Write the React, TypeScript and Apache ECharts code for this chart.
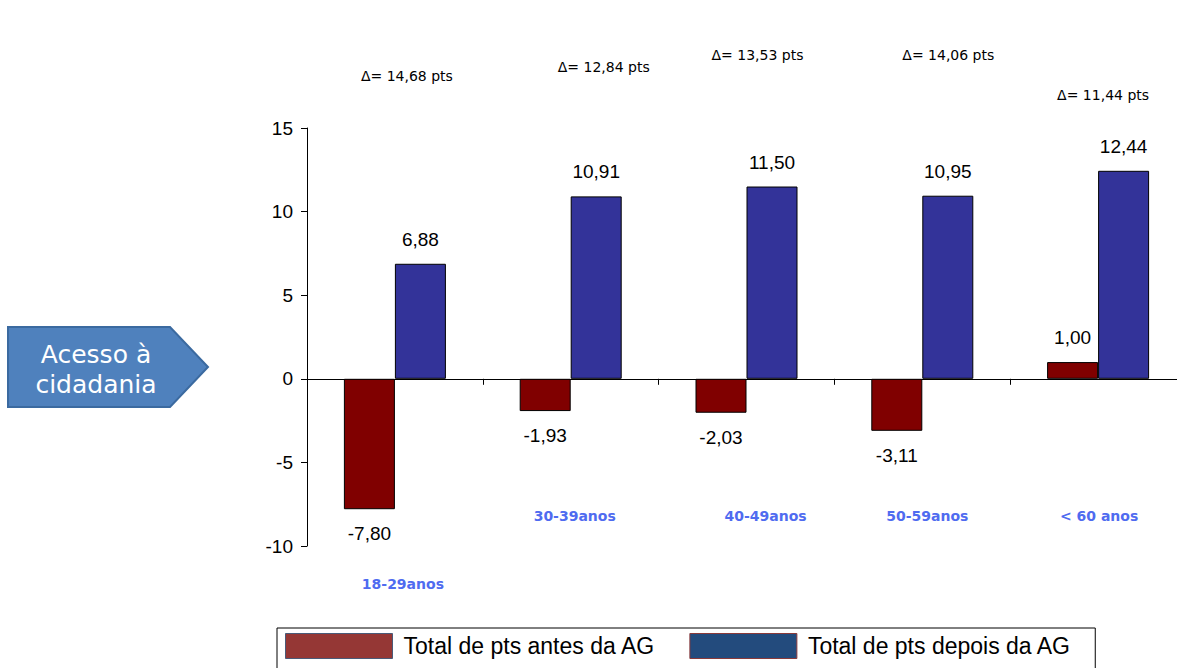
import React, { useEffect, useRef } from "react";
import * as echarts from "echarts";

const categories = ["18-29anos", "30-39anos", "40-49anos", "50-59anos", "< 60 anos"];
const seriesNames = ["Total de pts antes da AG", "Total de pts depois da AG"];
const beforeValues = [-7.8, -1.93, -2.03, -3.11, 1.0];
const afterValues = [6.88, 10.91, 11.5, 10.95, 12.44];
const yMin = -10;
const yMax = 15;
const yInterval = 5;
const sideTitle = "Acesso à\ncidadania";

const fmt = (v: number) => v.toFixed(2).replace(".", ",");

export default function App() {
  const ref = useRef<HTMLDivElement>(null);

  useEffect(() => {
    if (!ref.current) return;
    const chart = echarts.init(ref.current, undefined, { renderer: "svg" });

    const mkData = (vals: number[]) =>
      vals.map((v) => ({
        value: v,
        label: { position: v < 0 ? "bottom" : "top" },
      }));

    const option: any = {
      animation: false,
      backgroundColor: "#ffffff",
      textStyle: { fontFamily: "Liberation Sans, Arial, sans-serif" },
      grid: { left: 307, top: 128, height: 418, width: 879 },
      legend: {
        left: 277,
        top: 628,
        orient: "horizontal",
        itemWidth: 107,
        itemHeight: 25,
        itemGap: 34,
        borderColor: "#000",
        borderWidth: 1,
        padding: [5, 24, 20, 8],
        textStyle: {
          fontSize: 23,
          color: "#000",
          padding: [0, 0, 0, 6],
          fontFamily: "Liberation Sans, Arial, sans-serif",
        },
        data: [
          { name: seriesNames[0], icon: "rect", itemStyle: { color: "#953735", borderColor: "#4a5a78", borderWidth: 1 } },
          { name: seriesNames[1], icon: "rect", itemStyle: { color: "#234b7d", borderColor: "#8a3a3a", borderWidth: 1 } },
        ],
      },
      xAxis: {
        type: "category",
        data: categories,
        axisLine: { onZero: true, lineStyle: { color: "#000", width: 1 } },
        axisTick: { show: true, length: 6, lineStyle: { color: "#000" } },
        axisLabel: { show: false },
      },
      yAxis: {
        type: "value",
        min: yMin,
        max: yMax,
        interval: yInterval,
        splitLine: { show: false },
        axisLine: { show: true, lineStyle: { color: "#000", width: 1 } },
        axisTick: { show: true, length: 6, lineStyle: { color: "#000" } },
        axisLabel: { color: "#000", fontSize: 19, margin: 14 },
      },
      series: [
        {
          name: seriesNames[0],
          type: "bar",
          data: mkData(beforeValues),
          barWidth: 51,
          barGap: "0%",
          itemStyle: { color: "#800000", borderColor: "#000", borderWidth: 1 },
          label: { show: true, color: "#000", fontSize: 19, distance: 15, formatter: (p: any) => fmt(p.value) },
        },
        {
          name: seriesNames[1],
          type: "bar",
          data: mkData(afterValues),
          barWidth: 51,
          barGap: "0%",
          itemStyle: { color: "#333399", borderColor: "#000", borderWidth: 1 },
          label: { show: true, color: "#000", fontSize: 19, distance: 15, formatter: (p: any) => fmt(p.value) },
        },
      ],
    };
    chart.setOption(option);

    // annotation layout (pixel offsets relative to category centres)
    const deltaLayout = [
      { dx: 12, y: 76 },
      { dx: 33, y: 67 },
      { dx: 11, y: 55 },
      { dx: 26, y: 55 },
      { dx: 5, y: 95 },
    ];
    const catDx = [8, 4, 19, 5, 1];

    const graphics: any[] = [
      {
        type: "polygon",
        shape: { points: [[8, 327], [170, 327], [208, 367], [170, 407], [8, 407]] },
        style: { fill: "#4f81bd", stroke: "#3b6aa0", lineWidth: 2 },
      },
      {
        type: "text",
        x: 96,
        y: 369,
        style: {
          text: sideTitle,
          fill: "#ffffff",
          font: "25px 'DejaVu Sans', sans-serif",
          lineHeight: 30,
          align: "center",
          verticalAlign: "middle",
        },
      },
    ];

    categories.forEach((c, i) => {
      const center = chart.convertToPixel({ gridIndex: 0 }, [i, 0]) as number[];
      const delta = afterValues[i] - beforeValues[i];
      graphics.push({
        type: "text",
        x: center[0] + deltaLayout[i].dx,
        y: deltaLayout[i].y,
        style: {
          text: "Δ= " + fmt(delta) + " pts",
          fill: "#000",
          font: "14px 'DejaVu Sans', sans-serif",
          align: "center",
          verticalAlign: "middle",
        },
      });
      const labelVal = Math.min(-8.2, Math.min(beforeValues[i], 0) - 4.5);
      const lp = chart.convertToPixel({ gridIndex: 0 }, [i, labelVal]) as number[];
      graphics.push({
        type: "text",
        x: center[0] + catDx[i],
        y: lp[1],
        style: {
          text: c,
          fill: "#4f6bf0",
          font: "bold 14px 'DejaVu Sans', sans-serif",
          align: "center",
          verticalAlign: "middle",
        },
      });
    });

    chart.setOption({ graphic: graphics });

    return () => chart.dispose();
  }, []);

  return (
    <div style={{ position: "fixed", left: 0, top: 0, width: 1177, height: 668, overflow: "hidden", background: "#fff" }}>
      <div ref={ref} style={{ width: 1200, height: 668 }} />
    </div>
  );
}
